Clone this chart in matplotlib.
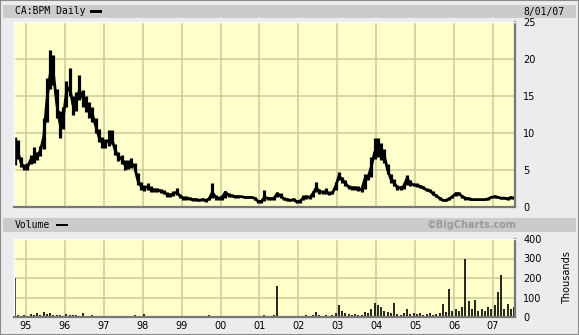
import matplotlib
matplotlib.use("Agg")
import matplotlib.pyplot as plt
import numpy as np
import pandas as pd
from matplotlib.patches import Rectangle


W, H = 579, 335

# monthly bars, Sep 1994 .. Jul 2007
START = "1994-09-01"
closes = [
    8.0, 7.5, 6.0, 5.3,
    5.4, 6.4, 6.6, 7.0, 7.6, 9.5, 14.5, 18.0, 18.0, 14.0, 11.3, 12.0,
    15.5, 16.2, 13.8, 14.2, 15.8, 14.8, 14.0, 13.0, 12.5, 11.0, 9.5, 8.7,
    8.6, 9.0, 9.2, 7.7, 6.8, 6.5, 5.7, 5.8, 5.9, 5.5, 3.6, 2.8,
    2.6, 2.7, 2.4, 2.3, 2.3, 2.2, 2.0, 1.7, 1.6, 1.8, 2.0, 1.5,
    1.2, 1.2, 1.1, 1.0, 1.0, 0.9, 1.0, 0.9, 1.1, 2.0, 1.3, 1.2,
    1.3, 2.0, 1.6, 1.5, 1.4, 1.4, 1.4, 1.3, 1.3, 1.3, 1.2, 0.8,
    0.7, 1.3, 1.2, 1.1, 1.2, 1.8, 1.5, 1.1, 1.0, 0.9, 1.0, 0.7,
    0.8, 1.2, 1.4, 1.3, 1.8, 2.6, 2.1, 2.0, 2.0, 1.8, 1.9, 2.8,
    4.2, 3.7, 3.2, 2.7, 2.6, 2.6, 2.5, 2.3, 3.8, 4.0, 5.5, 7.4,
    7.6, 7.1, 6.9, 5.0, 3.8, 3.3, 2.6, 2.6, 2.8, 3.9, 3.2, 3.0,
    2.9, 2.8, 2.6, 2.3, 2.2, 1.8, 1.5, 1.2, 0.9, 0.9, 1.1, 1.4,
    1.8, 1.8, 1.4, 1.2, 1.1, 1.0, 1.0, 1.0, 1.0, 1.0, 1.1, 1.3,
    1.4, 1.3, 1.2, 1.2, 1.1, 1.3, 1.2,
]
highs = [
    9.5, 9.0, 6.8, 5.8,
    6.0, 7.0, 8.1, 7.5, 8.3, 12.0, 17.5, 21.2, 20.5, 16.0, 13.0, 13.5,
    17.0, 18.8, 15.0, 15.5, 17.8, 15.8, 15.0, 14.2, 13.5, 12.0, 10.5, 9.5,
    9.2, 10.4, 10.4, 8.5, 7.5, 7.0, 6.3, 6.3, 6.6, 6.0, 4.6, 3.4,
    3.0, 3.3, 2.8, 2.6, 2.6, 2.5, 2.3, 2.0, 1.9, 2.2, 2.6, 1.8,
    1.5, 1.5, 1.3, 1.2, 1.2, 1.1, 1.2, 1.1, 1.3, 3.2, 1.6, 1.4,
    1.6, 2.2, 1.9, 1.7, 1.6, 1.6, 1.5, 1.5, 1.5, 1.4, 1.4, 1.0,
    0.9, 2.3, 1.4, 1.3, 1.4, 2.0, 1.9, 1.3, 1.2, 1.1, 1.2, 0.9,
    1.0, 1.6, 1.6, 1.5, 2.2, 3.4, 2.4, 2.3, 2.6, 2.1, 2.2, 3.4,
    4.7, 4.1, 3.6, 3.0, 2.9, 2.9, 2.8, 2.6, 4.5, 4.4, 6.8, 9.3,
    9.3, 8.6, 7.8, 5.8, 4.4, 3.8, 3.0, 2.9, 3.2, 4.3, 3.6, 3.3,
    3.2, 3.0, 2.9, 2.6, 2.4, 2.1, 1.7, 1.4, 1.1, 1.1, 1.3, 1.6,
    2.0, 2.0, 1.6, 1.3, 1.3, 1.1, 1.1, 1.1, 1.1, 1.1, 1.2, 1.5,
    1.6, 1.5, 1.3, 1.3, 1.3, 1.4, 1.3,
]
lows = [
    5.7, 6.5, 5.4, 5.0,
    5.0, 5.8, 6.0, 6.4, 6.9, 7.8, 11.5, 16.0, 16.5, 12.0, 9.3, 10.5,
    13.5, 15.0, 12.5, 13.0, 14.5, 13.5, 12.8, 12.0, 11.5, 10.0, 8.8, 8.0,
    8.0, 8.3, 8.5, 7.0, 6.2, 5.8, 5.0, 5.2, 5.3, 4.8, 3.0, 2.3,
    2.2, 2.3, 2.0, 2.0, 2.0, 1.9, 1.7, 1.4, 1.3, 1.5, 1.6, 1.2,
    1.0, 1.0, 0.9, 0.8, 0.8, 0.8, 0.8, 0.7, 0.9, 1.2, 1.0, 1.0,
    1.0, 1.2, 1.3, 1.3, 1.2, 1.2, 1.3, 1.2, 1.2, 1.2, 1.0, 0.6,
    0.6, 0.8, 1.0, 1.0, 1.0, 1.3, 1.2, 0.9, 0.8, 0.8, 0.8, 0.6,
    0.6, 0.9, 1.1, 1.1, 1.4, 2.0, 1.8, 1.7, 1.7, 1.6, 1.7, 2.3,
    3.6, 3.3, 2.8, 2.4, 2.3, 2.3, 2.2, 2.0, 2.4, 3.7, 4.0, 6.5,
    6.8, 6.4, 6.0, 4.4, 3.3, 2.8, 2.3, 2.3, 2.4, 3.0, 2.9, 2.8,
    2.7, 2.6, 2.4, 2.1, 2.0, 1.6, 1.3, 1.0, 0.8, 0.8, 0.9, 1.2,
    1.5, 1.6, 1.2, 1.0, 1.0, 0.9, 0.9, 0.9, 0.9, 0.9, 0.9, 1.2,
    1.2, 1.2, 1.1, 1.1, 1.0, 1.1, 1.1,
]
# volume, thousands of shares (peak day in each month)
volumes = [
    200, 8, 5, 10,
    5, 15, 10, 20, 10, 25, 15, 20, 10, 8, 12, 5,
    15, 10, 8, 10, 5, 20, 5, 3, 8, 5, 3, 2,
    3, 2, 2, 3, 2, 2, 3, 2, 2, 8, 3, 2,
    15, 2, 2, 1, 1, 1, 1, 1, 1, 1, 1, 1,
    1, 1, 1, 1, 1, 1, 1, 1, 8, 2, 1, 1,
    1, 1, 1, 1, 1, 1, 1, 1, 1, 1, 1, 1,
    1, 8, 1, 1, 10, 160, 2, 1, 1, 1, 1, 1,
    3, 5, 8, 5, 10, 25, 8, 5, 10, 5, 8, 20,
    60, 30, 20, 15, 10, 15, 10, 10, 25, 20, 40, 70,
    60, 50, 30, 25, 20, 70, 15, 10, 20, 40, 15, 20,
    15, 20, 10, 15, 20, 10, 15, 20, 65, 25, 145, 30,
    40, 30, 50, 300, 80, 40, 85, 30, 40, 30, 50, 40,
    60, 130, 215, 40, 65, 40, 50,
]
year_labels = ["95", "96", "97", "98", "99", "00", "01", "02", "03", "04", "05", "06", "07"]
price_ticks = [0, 5, 10, 15, 20, 25]
volume_ticks = [0, 100, 200, 300, 400]

BG = "#ececec"
BAR = "#cbcbcb"
PLOT_BG = "#ffffcc"
GRID = "#cccc99"


def fx(x):
    return x / W


def fy(y):
    return 1 - y / H


def month_positions(n):
    dates = pd.date_range(START, periods=n, freq="MS")
    return np.array([d.year + (d.month - 0.5) / 12 for d in dates])


def style_axes(axis, ymax, yticks):
    axis.set_facecolor(PLOT_BG)
    axis.set_xlim(1994.695, 2007.564)
    axis.set_ylim(0, ymax)
    years = np.arange(1995, 2008)
    axis.set_xticks(years)
    axis.set_yticks(yticks)
    axis.grid(True, color=GRID, linewidth=1.1)
    axis.set_axisbelow(True)
    axis.yaxis.tick_right()
    axis.tick_params(length=0, labelsize=7, pad=6)
    for side in ("top", "left"):
        axis.spines[side].set_color("#ffffff")
        axis.spines[side].set_linewidth(1.0)
    for side in ("bottom", "right"):
        axis.spines[side].set_color("#777777")
        axis.spines[side].set_linewidth(1.6)


def main():
    fig = plt.figure(figsize=(W / 100, H / 100), dpi=100, facecolor=BG)
    fig.patches.append(Rectangle((0, 0), 1, 1, transform=fig.transFigure,
                                 facecolor="none", edgecolor="#8a8a8a", linewidth=1.5))

    # header bars
    for top, bottom in ((5, 18), (218, 232)):
        fig.patches.append(Rectangle((fx(3), fy(bottom)), fx(573), (bottom - top) / H,
                                     transform=fig.transFigure, facecolor=BAR,
                                     edgecolor="none"))
    fig.text(fx(15), fy(11.5), "CA:BPM Daily", family="DejaVu Sans Mono", fontsize=7,
             va="center", ha="left")
    fig.patches.append(Rectangle((fx(90), fy(12.5)), fx(12), 2.5 / H,
                                 transform=fig.transFigure, facecolor="black"))
    fig.text(fx(523), fy(11.5), "8/01/07", family="DejaVu Sans Mono", fontsize=7,
             va="center", ha="left")
    fig.text(fx(15), fy(225), "Volume", family="DejaVu Sans Mono", fontsize=7,
             va="center", ha="left")
    fig.patches.append(Rectangle((fx(56), fy(226)), fx(12), 2.5 / H,
                                 transform=fig.transFigure, facecolor="black"))
    fig.text(fx(516), fy(225), "\u00a9BigCharts.com", fontsize=7, fontweight="bold",
             color="#9a9a9a", va="center", ha="right")

    xs = month_positions(len(closes))

    price_ax = fig.add_axes([fx(14), fy(207), fx(501), (207 - 22) / H])
    style_axes(price_ax, 25, price_ticks)
    price_ax.set_xticklabels([])
    price_ax.vlines(xs, lows, highs, color="black", linewidth=2.3)
    price_ax.plot(xs, closes, color="black", linewidth=2.0)

    vol_ax = fig.add_axes([fx(14), fy(317), fx(501), (317 - 239) / H])
    style_axes(vol_ax, 400, volume_ticks)
    vol_ax.set_xticklabels(year_labels)
    vol_ax.tick_params(axis="x", pad=3)
    vol_ax.vlines(month_positions(len(volumes)), 0, volumes, color="black", linewidth=1.2)
    fig.text(fx(567), fy(278), "Thousands", fontsize=7, rotation=90,
             va="center", ha="center")

    fig.savefig("out.png", dpi=100, facecolor=BG)
    plt.close(fig)


if __name__ == "__main__":
    main()
